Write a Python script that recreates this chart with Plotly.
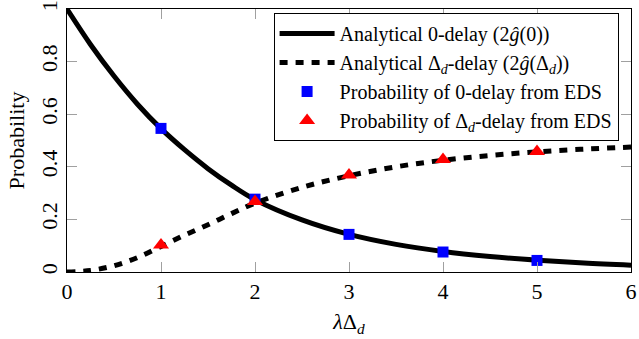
import plotly.graph_objects as go

# curve sample points
x_curve = [0, 0.25, 0.5, 0.75, 1, 1.25, 1.5, 1.75, 2, 2.5, 3, 3.5, 4, 4.5, 5, 5.5, 6]
zero_delay = [1.0, 0.865, 0.745, 0.638, 0.545, 0.465, 0.393, 0.33, 0.275, 0.198, 0.143,
              0.105, 0.078, 0.059, 0.045, 0.034, 0.026]
d_delay = [0.0, 0.006, 0.024, 0.055, 0.097, 0.14, 0.18, 0.222, 0.262, 0.322, 0.366,
           0.40, 0.425, 0.443, 0.457, 0.467, 0.475]

# EDS points
x_eds = [1, 2, 3, 4, 5]
eds_zero = [0.546, 0.277, 0.143, 0.076, 0.044]
eds_d = [0.103, 0.268, 0.369, 0.428, 0.458]

x_ticks = [0, 1, 2, 3, 4, 5, 6]
y_ticks = [0, 0.2, 0.4, 0.6, 0.8, 1]
y_tick_labels = ["0", "0.2", "0.4", "0.6", "0.8", "1"]

FONT = "Liberation Serif"

fig = go.Figure()
fig.add_trace(go.Scatter(
    x=x_curve, y=zero_delay, mode="lines", line=dict(color="black", width=5, shape="spline"),
    name="Analytical 0-delay (2<i>ĝ</i>(0))"))
fig.add_trace(go.Scatter(
    x=x_curve, y=d_delay, mode="lines",
    line=dict(color="black", width=5, dash="8px,8px", shape="spline"),
    name="Analytical Δ<sub><i>d</i></sub>-delay (2<i>ĝ</i>(Δ<sub><i>d</i></sub>))"))
fig.add_trace(go.Scatter(
    x=x_eds, y=eds_zero, mode="markers",
    marker=dict(symbol="square", color="#0000ff", size=11),
    name="Probability of 0-delay from EDS"))
fig.add_trace(go.Scatter(
    x=x_eds, y=eds_d, mode="markers",
    marker=dict(symbol="triangle-up", color="#ff0000", size=14),
    name="Probability of Δ<sub><i>d</i></sub>-delay from EDS"))

axis_common = dict(
    showgrid=False, zeroline=False, showline=True, linecolor="black", linewidth=1,
    mirror="ticks", ticks="inside", ticklen=10, tickcolor="#a0a0a0", tickwidth=1,
    tickfont=dict(family=FONT, size=22, color="black"),
)

fig.update_layout(
    width=639, height=339,
    margin=dict(l=67, r=8, t=9, b=67, autoexpand=False),
    paper_bgcolor="white", plot_bgcolor="white",
    font=dict(family=FONT, size=22, color="black"),
    showlegend=True,
    legend=dict(
        x=0.978, y=0.985, xanchor="right", yanchor="top",
        bordercolor="black", borderwidth=1, bgcolor="white",
        font=dict(family=FONT, size=20, color="black"),
        tracegroupgap=0, itemwidth=55,
    ),
    xaxis=dict(
        range=[0, 6], tickvals=x_ticks, ticktext=[str(v) for v in x_ticks],
        title=dict(text="<i>λ</i>Δ<sub><i>d</i></sub>", font=dict(family=FONT, size=22), standoff=10),
        **axis_common,
    ),
    yaxis=dict(
        range=[0, 1], tickvals=y_ticks, ticktext=y_tick_labels, tickangle=-90,
        title=dict(text="Probability", font=dict(family=FONT, size=22), standoff=6),
        **axis_common,
    ),
)

fig.write_html("out.html", config={"displayModeBar": False},
               post_script="document.body.style.margin='0';")
